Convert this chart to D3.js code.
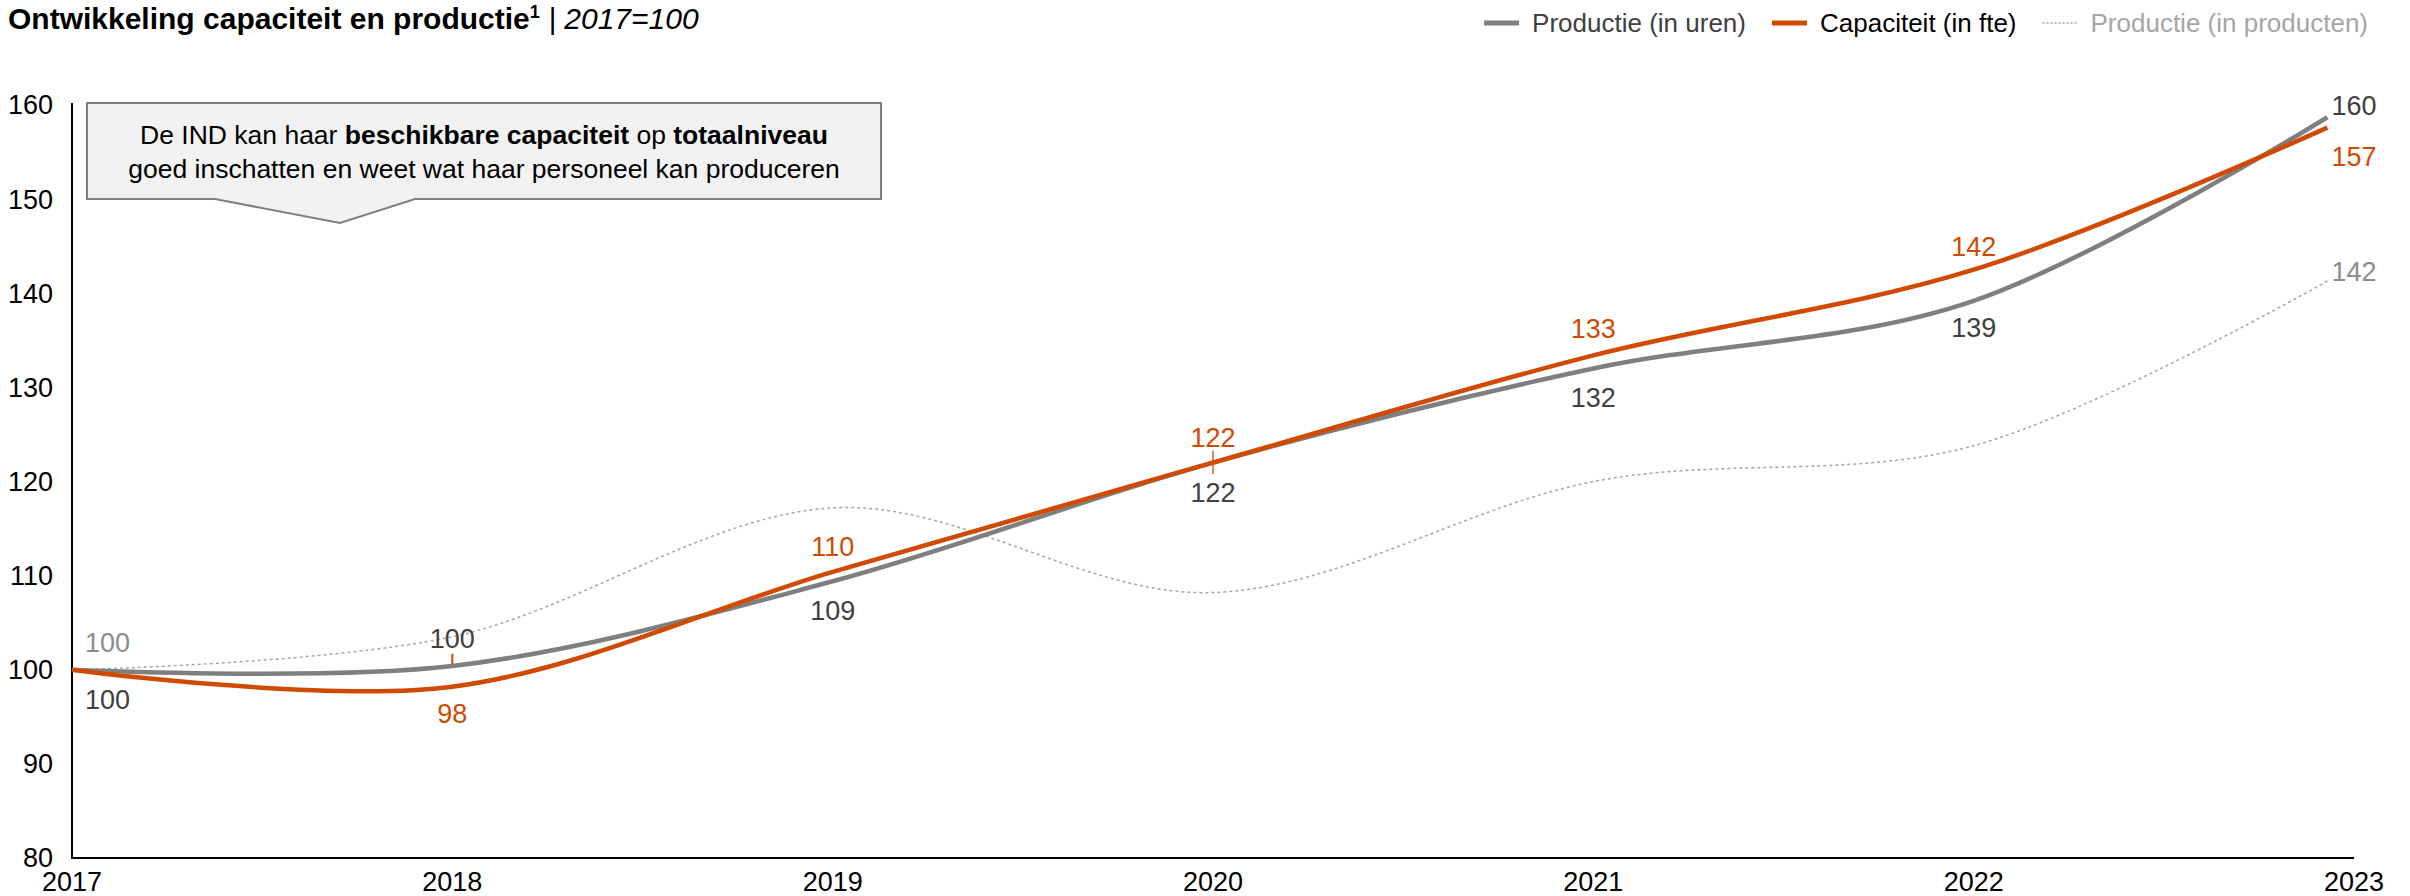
<!DOCTYPE html>
<html>
<head>
<meta charset="utf-8">
<script src="https://cdn.jsdelivr.net/npm/d3@7"></script>
<style>
  html, body { margin: 0; padding: 0; background: #fff; }
  svg { display: block; font-family: "Liberation Sans", Arial, sans-serif; }
</style>
</head>
<body>
<svg id="chart"></svg>
<script>
// Data
const years = [2017, 2018, 2019, 2020, 2021, 2022, 2023];
// x position of each point (last point sits slightly before the 2023 tick)
const pointYears = [2017, 2018, 2019, 2020, 2021, 2022, 2022.93];
const yTicks = [80, 90, 100, 110, 120, 130, 140, 150, 160];

const productieUren = [100, 100.4, 109.4, 122, 132, 139.2, 158.7];
const capaciteitFte = [100, 98.2, 110.4, 122, 133.4, 142.5, 157.6];
const productieProducten = [100, 103.5, 117.2, 108.2, 120, 123.8, 141.3];

const labelsUren = ['100', '100', '109', '122', '132', '139', '160'];
const labelsFte = [null, '98', '110', '122', '133', '142', '157'];
const labelsProducten = ['100', null, null, null, null, null, '142'];

const seriesNames = ['Productie (in uren)', 'Capaciteit (in fte)', 'Productie (in producten)'];

const width = 2410, height = 896;
const margin = { top: 105, right: 56, bottom: 38, left: 72 };

const svg = d3.select('#chart')
  .attr('width', width)
  .attr('height', height);

const x = d3.scaleLinear()
  .domain([2017, 2023])
  .range([margin.left, width - margin.right]);

const y = d3.scaleLinear()
  .domain([80, 160])
  .range([height - margin.bottom, margin.top]);

const orange = '#d04a02';
const grey = '#7f7f7f';
const lightGrey = '#a6a6a6';
const labelGrey = '#404040';

// Title
const title = svg.append('text')
  .attr('x', 8)
  .attr('y', 29)
  .style('font-size', '30px')
  .style('fill', '#000');
title.append('tspan').style('font-weight', '700').text('Ontwikkeling capaciteit en productie');
title.append('tspan').style('font-weight', '700').style('font-size', '18px').attr('dy', -11).text('1');
title.append('tspan').attr('dy', 11).style('font-style', 'italic').text(' | 2017=100');

// Legend, laid out from the right edge
const legendItems = [
  { name: seriesNames[0], color: grey, width: 5, dash: null, text: labelGrey },
  { name: seriesNames[1], color: orange, width: 5, dash: null, text: '#000' },
  { name: seriesNames[2], color: lightGrey, width: 1.5, dash: '2,2', text: lightGrey }
];
const legend = svg.append('g');
let lx = 2368;
legendItems.slice().reverse().forEach(item => {
  const t = legend.append('text')
    .attr('y', 32)
    .style('font-size', '26px')
    .style('fill', item.text)
    .text(item.name);
  const w = t.node().getComputedTextLength();
  t.attr('x', lx - w);
  legend.append('line')
    .attr('x1', lx - w - 48).attr('x2', lx - w - 13)
    .attr('y1', 23).attr('y2', 23)
    .attr('stroke', item.color)
    .attr('stroke-width', item.width)
    .attr('stroke-dasharray', item.dash);
  lx = lx - w - 48 - 26;
});

// Axes
const axisG = svg.append('g');
axisG.append('line')
  .attr('x1', x(2017)).attr('x2', x(2017))
  .attr('y1', y(160) - 2).attr('y2', y(80))
  .attr('stroke', '#000').attr('stroke-width', 2);
axisG.append('line')
  .attr('x1', x(2017) - 1).attr('x2', x(2023))
  .attr('y1', y(80)).attr('y2', y(80))
  .attr('stroke', '#000').attr('stroke-width', 2);

axisG.selectAll('.ytick')
  .data(yTicks)
  .enter()
  .append('text')
  .attr('x', 53)
  .attr('y', d => y(d))
  .attr('dy', '0.35em')
  .attr('text-anchor', 'end')
  .style('font-size', '27px')
  .style('fill', '#000')
  .text(d => d);

axisG.selectAll('.xtick')
  .data(years)
  .enter()
  .append('text')
  .attr('x', d => x(d))
  .attr('y', y(80) + 24)
  .attr('dy', '0.35em')
  .attr('text-anchor', 'middle')
  .style('font-size', '27px')
  .style('fill', '#000')
  .text(d => d);

// Lines
const line = d3.line()
  .x((d, i) => x(pointYears[i]))
  .y(d => y(d))
  .curve(d3.curveCardinal.tension(0));

svg.append('path')
  .datum(productieProducten)
  .attr('d', line)
  .attr('fill', 'none')
  .attr('stroke', lightGrey)
  .attr('stroke-width', 1.5)
  .attr('stroke-dasharray', '3,3');

// small leader ticks
svg.append('line')
  .attr('x1', x(2018)).attr('x2', x(2018))
  .attr('y1', y(101.7)).attr('y2', y(100.6))
  .attr('stroke', orange).attr('stroke-width', 2);
svg.append('line')
  .attr('x1', x(2020)).attr('x2', x(2020))
  .attr('y1', y(123.3)).attr('y2', y(120.8))
  .attr('stroke', '#e08a5a').attr('stroke-width', 2);

svg.append('path')
  .datum(productieUren)
  .attr('d', line)
  .attr('fill', 'none')
  .attr('stroke', grey)
  .attr('stroke-width', 4.5);

svg.append('path')
  .datum(capaciteitFte)
  .attr('d', line)
  .attr('fill', 'none')
  .attr('stroke', orange)
  .attr('stroke-width', 4.5);

// Data labels
const labelX = (i) => i === 0 ? x(2017) + 13 : x(years[i]);
const labelAnchor = (i) => i === 0 ? 'start' : 'middle';

function addLabels(values, labels, color, offsets) {
  svg.append('g')
    .selectAll('text')
    .data(labels.map((l, i) => ({ l, i })).filter(d => d.l !== null))
    .enter()
    .append('text')
    .attr('x', d => labelX(d.i))
    .attr('y', d => y(values[d.i]) + offsets[d.i])
    .attr('dy', '0.35em')
    .attr('text-anchor', d => labelAnchor(d.i))
    .style('font-size', '27px')
    .style('fill', color)
    .text(d => d.l);
}

addLabels(productieUren, labelsUren, labelGrey, [30, -27, 29, 30, 29, 27, -12]);
addLabels(capaciteitFte, labelsFte, orange, [0, 27, -25, -25, -27, -23, 29]);
addLabels(productieProducten, labelsProducten, '#8c8c8c', [-27, 0, 0, 0, 0, 0, -9]);

// Annotation call-out
const box = { x0: 87, x1: 881, y0: 103, y1: 199, px0: 215, px1: 415, tipX: 340, tipY: 223 };
svg.append('path')
  .attr('d', `M${box.x0},${box.y0} H${box.x1} V${box.y1} H${box.px1} L${box.tipX},${box.tipY} L${box.px0},${box.y1} H${box.x0} Z`)
  .attr('fill', '#f2f2f2')
  .attr('stroke', '#808080')
  .attr('stroke-width', 2);

const note1 = svg.append('text')
  .attr('x', (box.x0 + box.x1) / 2)
  .attr('y', 135)
  .attr('dy', '0.35em')
  .attr('text-anchor', 'middle')
  .style('font-size', '26.5px')
  .style('fill', '#000');
note1.append('tspan').text('De IND kan haar ');
note1.append('tspan').style('font-weight', '700').text('beschikbare capaciteit');
note1.append('tspan').text(' op ');
note1.append('tspan').style('font-weight', '700').text('totaalniveau');

svg.append('text')
  .attr('x', (box.x0 + box.x1) / 2)
  .attr('y', 169)
  .attr('dy', '0.35em')
  .attr('text-anchor', 'middle')
  .style('font-size', '26.5px')
  .style('fill', '#000')
  .text('goed inschatten en weet wat haar personeel kan produceren');
</script>
</body>
</html>
